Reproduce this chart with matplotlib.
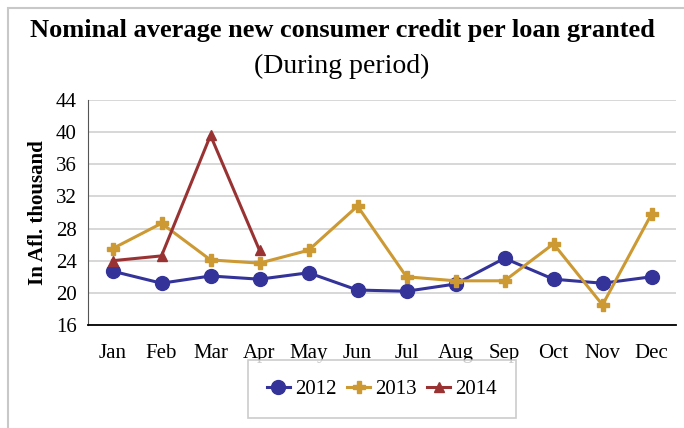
import matplotlib.pyplot as plt
from matplotlib.patches import Rectangle

# data
months = ['Jan', 'Feb', 'Mar', 'Apr', 'May', 'Jun', 'Jul', 'Aug', 'Sep', 'Oct', 'Nov', 'Dec']
credit_2012 = [22.7, 21.2, 22.1, 21.7, 22.5, 20.35, 20.2, 21.1, 24.3, 21.7, 21.2, 22.0]
credit_2013 = [25.5, 28.65, 24.1, 23.7, 25.3, 30.8, 22.0, 21.5, 21.5, 26.1, 18.5, 29.8]
credit_2014 = [24.0, 24.6, 39.6, 25.3]
yticks = [16, 20, 24, 28, 32, 36, 40, 44]

plt.rcParams['font.family'] = ['Liberation Serif', 'DejaVu Serif']

fig = plt.figure(figsize=(6.84, 4.28), dpi=100)
ax = fig.add_axes([88 / 684, 1 - 325 / 428, (676 - 88) / 684, 225 / 428])

x = range(len(months))
ax.plot(x, credit_2012, color='#333399', lw=2.2, marker='o', ms=10, label='2012', zorder=3)
ax.plot(x, credit_2013, color='#CC9933', lw=2.2, marker='P', ms=8, label='2013', zorder=3)
ax.plot(range(len(credit_2014)), credit_2014, color='#993333', lw=2.2, marker='^', ms=7,
        label='2014', zorder=3)

ax.set_xlim(-0.5, 11.5)
ax.set_ylim(16, 44)
ax.set_yticks(yticks)
ax.set_xticks(list(x))
ax.set_xticklabels(months)
ax.tick_params(length=0, labelsize=15)
ax.tick_params(axis='x', pad=14)
ax.tick_params(axis='y', pad=8)
ax.grid(axis='y', color='#d4d4d4', lw=1.3)
ax.set_axisbelow(True)
for s in ['top', 'right']:
    ax.spines[s].set_visible(False)
ax.spines['left'].set_color('#555555')
ax.spines['bottom'].set_color('black')
ax.spines['bottom'].set_linewidth(1.3)

ax.set_ylabel('In Afl. thousand', fontsize=15, fontweight='bold', labelpad=6)

fig.text(0.5, 1 - 30 / 428, 'Nominal average new consumer credit per loan granted',
         ha='center', va='center', fontsize=19, fontweight='bold')
fig.text(0.5, 1 - 66 / 428, '(During period)', ha='center', va='center', fontsize=20)

leg = fig.legend(loc='center', bbox_to_anchor=(382 / 684, 1 - 389 / 428), ncol=3,
                 fontsize=15, frameon=True, fancybox=False, handlelength=1.1,
                 handletextpad=0.25, columnspacing=0.5, borderpad=0.9)
leg.get_frame().set_edgecolor('#bfbfbf')
leg.get_frame().set_linewidth(1.2)

# outer frame of the chart object
fig.patches.append(Rectangle((8 / 684, -0.1), 1.2, 1 - 8 / 428 + 0.1, transform=fig.transFigure,
                             fill=False, edgecolor='#c8c8c8', lw=1.5))

fig.savefig('out.png', dpi=100)
